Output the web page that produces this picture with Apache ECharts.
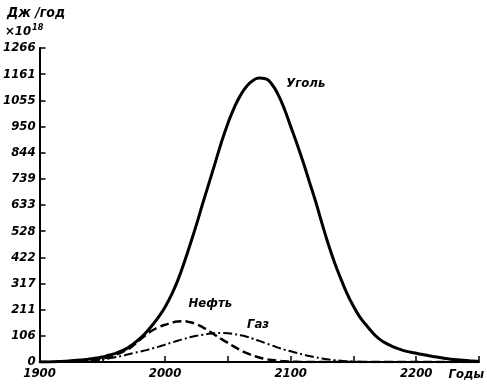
<!DOCTYPE html>
<html>
<head>
<meta charset="utf-8">
<script src="https://cdn.jsdelivr.net/npm/echarts@6/dist/echarts.min.js"></script>
<style>html,body{margin:0;padding:0;background:#fff}#c{width:487px;height:384px}</style>
</head>
<body>
<div id="c"></div>
<script>
var years = [1900,1905,1910,1915,1920,1925,1930,1935,1940,1945,1950,1955,1960,1965,1970,1975,1980,1985,1990,1995,
             2000,2005,2010,2015,2020,2025,2030,2035,2040,2045,2050,2055,2060,2065,2070,2075,2080,2085,2090,2095,
             2100,2105,2110,2115,2120,2125,2130,2135,2140,2145,2150,2155,2160,2165,2170,2175,2180,2185,2190,2195,
             2200,2205,2210,2215,2220,2225,2230,2235,2240,2245,2250];
var coal = [0,0,1,2,3,5,7,9,12,16,20,27,34,44,56,74,95,120,150,183,
            222,270,328,398,475,555,640,722,805,888,962,1025,1075,1112,1135,1145,1142,1120,1078,1020,
            950,880,805,725,645,558,475,400,335,275,225,182,150,120,95,78,65,55,46,40,
            35,30,25,21,17,13,10,8,6,4,3];
var oil = [0,0,0,1,1,2,3,5,7,10,14,20,28,38,50,68,90,110,128,141,
           150,158,163,164,160,152,140,125,108,92,77,62,48,36,26,18,12,8,5,3,
           2,1,0,0,0,0,0,0,0,0,0,0,0,0,0,0,0,0,0,0,
           0,0,0,0,0,0,0,0,0,0,0];
var gas = [0,0,0,0,0,1,1,2,4,7,10,14,19,24,30,36,42,48,55,62,
           70,78,86,93,100,106,110,114,116,117,116,113,108,102,94,85,76,67,58,50,
           43,36,30,24,19,14,10,7,5,3,2,1,0,0,0,0,0,0,0,0,
           0,0,0,0,0,0,0,0,0,0,0];
var yTickLabels = ['0','106','211','317','422','528','633','739','844','950','1055','1161','1266'];
var xTickLabels = {1900:'1900',2000:'2000',2100:'2100',2200:'2200'};
var seriesNames = ['Уголь','Нефть','Газ'];

function pairs(v){ return years.map(function(y,i){ return [y, v[i]]; }); }
var font = {fontFamily:"'DejaVu Sans Condensed','Liberation Sans',sans-serif", fontStyle:'italic', fontWeight:'bold', color:'#000'};
function f(o){ var r = {}; for (var k in font) r[k]=font[k]; for (var k2 in o) r[k2]=o[k2]; return r; }

var chart = echarts.init(document.getElementById('c'));
chart.setOption({
  animation:false,
  backgroundColor:'#fff',
  grid:{left:37, right:5, top:48, bottom:22, containLabel:false},
  xAxis:{
    type:'value', min:1900, max:2250, interval:50,
    axisLine:{show:true, lineStyle:{color:'#000', width:2}},
    axisTick:{show:true, inside:true, length:6, lineStyle:{color:'#000', width:1.5}},
    splitLine:{show:false},
    axisLabel:f({fontSize:13, margin:5, formatter:function(v){ return xTickLabels[v] || ''; }}),
    name:'Годы', nameLocation:'end', nameGap:5,
    nameTextStyle:f({fontSize:13, align:'right', verticalAlign:'top', padding:[6,0,0,0]})
  },
  yAxis:{
    type:'value', min:0, max:1266, interval:105.5,
    axisLine:{show:true, lineStyle:{color:'#000', width:2}},
    axisTick:{show:true, inside:true, length:6, lineStyle:{color:'#000', width:1.5}},
    splitLine:{show:false},
    axisLabel:f({fontSize:13, margin:4, formatter:function(v){ return yTickLabels[Math.round(v/105.5)]; }})
  },
  graphic:[
    {type:'text', left:7, top:6, style:f({text:'Дж /год', fontSize:14, fill:'#000'})},
    {type:'text', left:5, top:23, style:{rich:{a:f({fontSize:13}), s:f({fontSize:9, verticalAlign:'top', padding:[0,0,8,1]})}, text:'{a|×10}{s|18}'}}
  ],
  series:[
    {name:seriesNames[0], type:'line', smooth:true, symbol:'none', data:pairs(coal),
     lineStyle:{color:'#000', width:3},
     markPoint:{symbol:'circle', symbolSize:0, data:[{coord:[2112,1121]}],
       label:f({show:true, position:'inside', fontSize:13, formatter:seriesNames[0]})}},
    {name:seriesNames[1], type:'line', smooth:true, symbol:'none', data:pairs(oil),
     lineStyle:{color:'#000', width:2.5, type:[9,4]},
     markPoint:{symbol:'circle', symbolSize:0, data:[{coord:[2036,234]}],
       label:f({show:true, position:'inside', fontSize:13, formatter:seriesNames[1]})}},
    {name:seriesNames[2], type:'line', smooth:true, symbol:'none', data:pairs(gas),
     lineStyle:{color:'#000', width:2, type:[9,3,2,3]},
     markPoint:{symbol:'circle', symbolSize:0, data:[{coord:[2074,149]}],
       label:f({show:true, position:'inside', fontSize:13, formatter:seriesNames[2]})}}
  ]
});
</script>
</body>
</html>
